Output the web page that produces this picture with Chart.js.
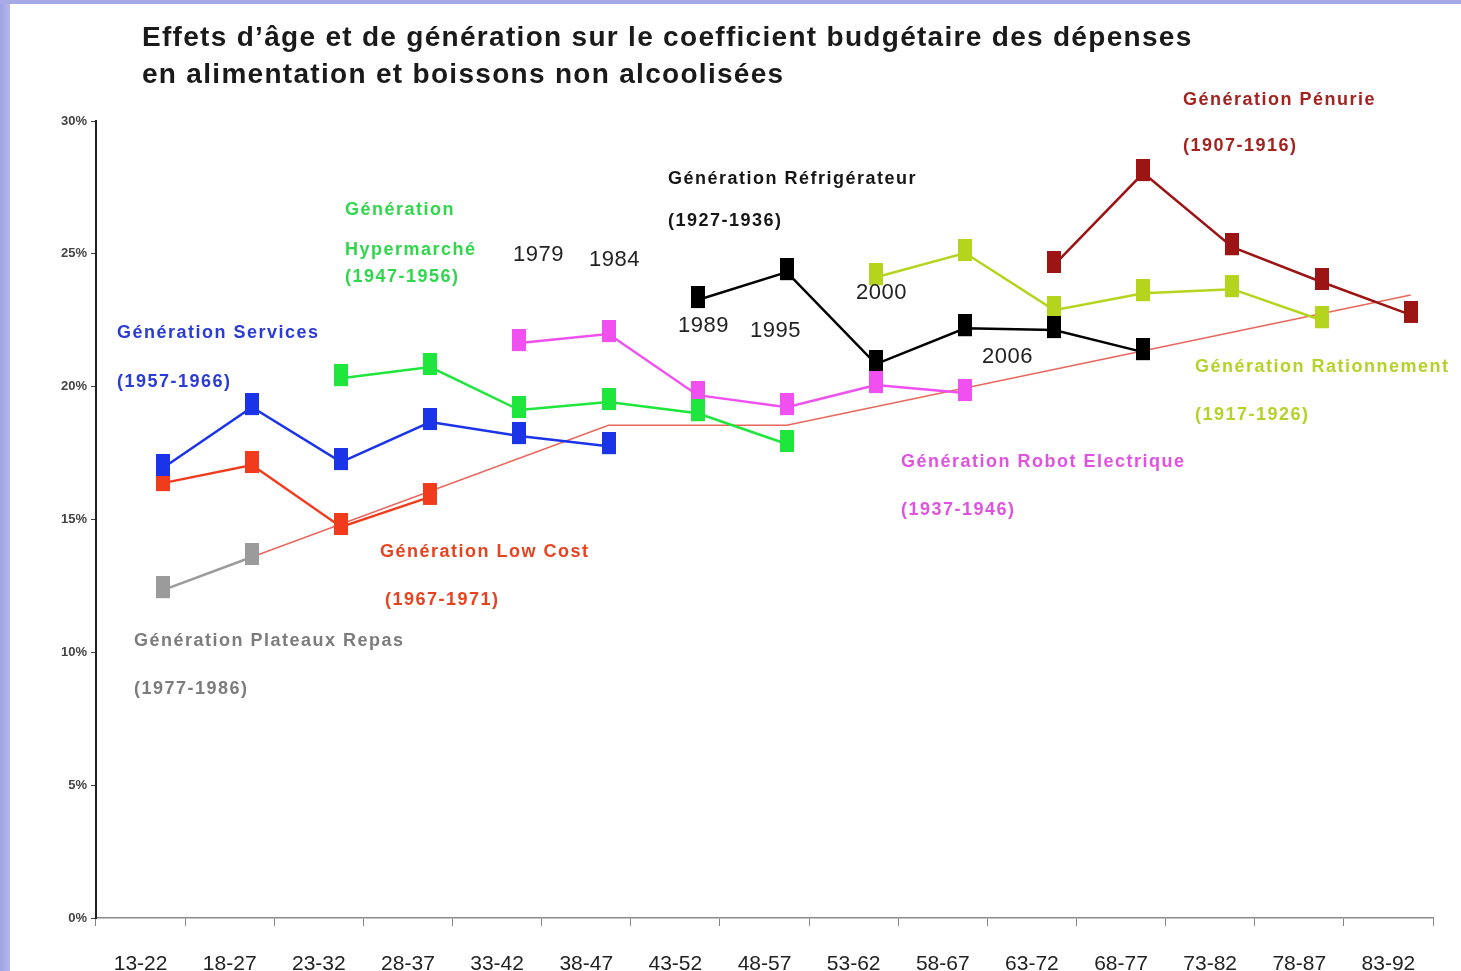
<!DOCTYPE html>
<html><head><meta charset="utf-8">
<script src="https://cdn.jsdelivr.net/npm/chart.js@4.4.1/dist/chart.umd.min.js"></script>
<style>
html,body{margin:0;padding:0;background:#fff;width:1461px;height:971px;overflow:hidden;}
#wrap{position:relative;width:1461px;height:971px;background:#fff;}
#c{position:absolute;left:0;top:0;}
#title{position:absolute;left:142px;top:18px;font:bold 28px 'Liberation Sans',Arial,sans-serif;letter-spacing:1.3px;line-height:37px;color:#1a1a1a;white-space:nowrap;}
#lb{position:absolute;left:0;top:0;width:10px;height:971px;background:linear-gradient(to right,#9ea2e2,#b4b7ec);}
#tb{position:absolute;left:0;top:0;width:1461px;height:4px;background:#a7aae6;}
</style></head><body>
<div id="wrap"><canvas id="c" width="1461" height="971"></canvas>
<div id="title">Effets d’âge et de génération sur le coefficient budgétaire des dépenses<br>en alimentation et boissons non alcoolisées</div>
<div id="lb"></div><div id="tb"></div></div>
<script>
// ---- data (values in %) ----
const categories = ['13-22','18-27','23-32','28-37','33-42','38-47','43-52','48-57','53-62','58-67','63-72','68-77','73-82','78-87','83-92'];
const yTicks = [0, 5, 10, 15, 20, 25, 30];
const genServices      = [16.94, 19.23, 17.16, 18.67, 18.14, 17.76, null, null, null, null, null, null, null, null, null];
const genLowCost       = [16.37, 17.05, 14.72, 15.85, null, null, null, null, null, null, null, null, null, null, null];
const genPlateaux      = [12.34, 13.59, null, null, null, null, null, null, null, null, null, null, null, null, null];
const genHypermarche   = [null, null, 20.32, 20.74, 19.12, 19.42, 19.00, 17.84, null, null, null, null, null, null, null];
const genRobot         = [null, null, null, null, 21.64, 21.98, 19.68, 19.23, 20.06, 19.76, null, null, null, null, null];
const genRefrigerateur = [null, null, null, null, null, null, 23.26, 24.31, 20.85, 22.20, 22.13, 21.30, null, null, null];
const genRationnement  = [null, null, null, null, null, null, null, null, 24.12, 25.03, 22.88, 23.52, 23.67, 22.50, null];
const genPenurie       = [null, null, null, null, null, null, null, null, null, null, 24.58, 28.04, 25.25, 23.94, 22.70];
const trendLine        = [null, 13.59, null, null, null, 18.55, null, 18.55, null, null, null, null, null, null, 23.45];

const FONT = "'Liberation Sans', Arial, Helvetica, sans-serif";

const notes = [
  {t:'Génération Services', c:'#2a3bd6', x:117, y:333, b:true},
  {t:'(1957-1966)', c:'#2a3bd6', x:117, y:382, b:true},
  {t:'Génération', c:'#2fd84a', x:345, y:210, b:true},
  {t:'Hypermarché', c:'#2fd84a', x:345, y:250, b:true},
  {t:'(1947-1956)', c:'#2fd84a', x:345, y:277, b:true},
  {t:'1979', c:'#222', x:513, y:255, b:false},
  {t:'1984', c:'#222', x:589, y:260, b:false},
  {t:'Génération Réfrigérateur', c:'#161616', x:668, y:179, b:true},
  {t:'(1927-1936)', c:'#161616', x:668, y:221, b:true},
  {t:'1989', c:'#222', x:678, y:326, b:false},
  {t:'1995', c:'#222', x:750, y:331, b:false},
  {t:'2000', c:'#222', x:856, y:293, b:false},
  {t:'2006', c:'#222', x:982, y:357, b:false},
  {t:'Génération Pénurie', c:'#a2231f', x:1183, y:100, b:true},
  {t:'(1907-1916)', c:'#a2231f', x:1183, y:146, b:true},
  {t:'Génération Rationnement', c:'#b4d22a', x:1195, y:367, b:true},
  {t:'(1917-1926)', c:'#b4d22a', x:1195, y:415, b:true},
  {t:'Génération Robot Electrique', c:'#e052e0', x:901, y:462, b:true},
  {t:'(1937-1946)', c:'#e052e0', x:901, y:510, b:true},
  {t:'Génération Low Cost', c:'#e8421e', x:380, y:552, b:true},
  {t:'(1967-1971)', c:'#e8421e', x:385, y:600, b:true},
  {t:'Génération Plateaux Repas', c:'#7c7c7c', x:134, y:641, b:true},
  {t:'(1977-1986)', c:'#7c7c7c', x:134, y:689, b:true}
];

function marker(color){
  const cv = document.createElement('canvas');
  cv.width = 14; cv.height = 28;
  const g = cv.getContext('2d');
  g.fillStyle = color;
  g.fillRect(0, 0, 14, 22);
  return cv;
}
function toPts(arr){
  return arr.map((v,i)=>({x:i, y:v})).filter(p=>p.y!==null);
}
function series(label, arr, color){
  return {label, data: toPts(arr), borderColor: color, backgroundColor: color,
    borderWidth: 2.5, tension: 0, pointStyle: marker(color), pointRadius: 8,
    xAxisID: 'xd', yAxisID: 'y'};
}

const notePlugin = {
  id: 'notes',
  afterDatasetsDraw(chart){
    const ctx = chart.ctx;
    ctx.save();
    ctx.textBaseline = 'middle';
    ctx.textAlign = 'left';
    for (const n of notes){
      ctx.font = (n.b ? 'bold 18px ' : '22px ') + FONT;
      try { ctx.letterSpacing = n.b ? '1.5px' : '0.5px'; } catch(e){}
      ctx.fillStyle = n.c;
      ctx.fillText(n.t, n.x, n.y);
    }
    ctx.restore();
  }
};

new Chart(document.getElementById('c'), {
  type: 'line',
  data: {
    labels: categories,
    datasets: [
      series('Génération Services', genServices, '#1c34e8'),
      series('Génération Low Cost', genLowCost, '#f03c1c'),
      series('Génération Plateaux Repas', genPlateaux, '#9b9b9b'),
      series('Génération Hypermarché', genHypermarche, '#1ee63c'),
      series('Génération Robot Electrique', genRobot, '#f050f0'),
      series('Génération Réfrigérateur', genRefrigerateur, '#000000'),
      series('Génération Rationnement', genRationnement, '#b4d41e'),
      series('Génération Pénurie', genPenurie, '#9c1414'),
      {label:'tendance', data: toPts(trendLine), borderColor:'#e8675c', borderWidth:1.5,
       pointRadius:0, tension:0, xAxisID:'xd', yAxisID:'y'}
    ]
  },
  options: {
    responsive: false,
    animation: false,
    devicePixelRatio: 1,
    layout: {padding: {left: 40, right: 28, top: 121, bottom: 0}},
    plugins: {legend: {display:false}, tooltip: {enabled:false}, title: {display:false}},
    scales: {
      x: {type:'category', position:'bottom', offset:true,
        grid:{display:true, drawOnChartArea:false, drawTicks:true, tickLength:8, offset:true, color:'#888', lineWidth:1},
        border:{display:true, color:'#8a8a8a', width:1.5, dash:[4,3]},
        ticks:{color:'#222', font:{family:FONT, size:21}, padding:26, maxRotation:0, autoSkip:false},
        afterFit(s){ s.height = 53; }
      },
      xd: {type:'linear', display:false, min:-0.75, max:14.25},
      y: {type:'linear', position:'left', min:0, max:30,
        afterBuildTicks(s){ s.ticks = yTicks.map(v=>({value:v})); },
        ticks:{callback:v=>v+'%', color:'#444', font:{family:FONT, size:13, weight:'bold'}, padding:4},
        grid:{display:true, drawOnChartArea:false, drawTicks:true, tickLength:5, color:'#444'},
        border:{display:true, color:'#222', width:2},
        afterFit(s){ s.width = 56; }
      }
    }
  },
  plugins: [notePlugin]
});
</script>
</body></html>
